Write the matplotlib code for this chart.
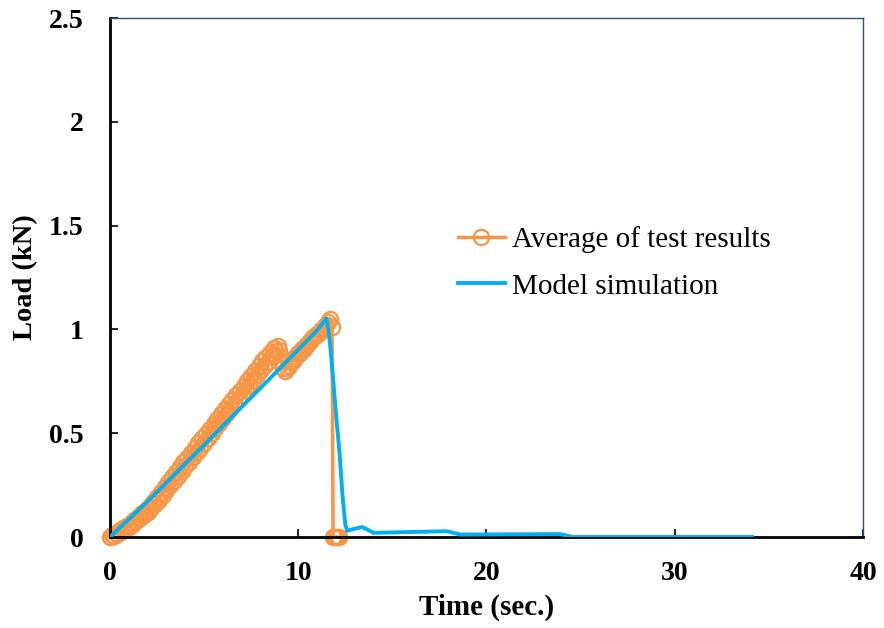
import matplotlib
matplotlib.use("Agg")
import matplotlib.pyplot as plt

# ── Data ────────────────────────────────────────────────────────────────────
test_time = [
    0.0, 0.1, 0.2, 0.3, 0.4, 0.5, 0.6, 0.7, 0.8, 0.9,
    1.0, 1.1, 1.2, 1.3, 1.4, 1.5, 1.6, 1.7, 1.8, 1.9,
    2.0, 2.1, 2.2, 2.3, 2.4, 2.5, 2.6, 2.7, 2.8, 2.9,
    3.0, 3.1, 3.2, 3.3, 3.4, 3.5, 3.6, 3.7, 3.8, 3.9,
    4.0, 4.1, 4.2, 4.3, 4.4, 4.5, 4.6, 4.7, 4.8, 4.9,
    5.0, 5.1, 5.2, 5.3, 5.4, 5.5, 5.6, 5.7, 5.8, 5.9,
    6.0, 6.1, 6.2, 6.3, 6.4, 6.5, 6.6, 6.7, 6.8, 6.9,
    7.0, 7.1, 7.2, 7.3, 7.4, 7.5, 7.6, 7.7, 7.8, 7.9,
    8.0, 8.1, 8.2, 8.3, 8.4, 8.5, 8.6, 8.7, 8.8, 8.9,
    9.0, 9.1, 9.2, 9.3, 9.4, 9.5, 9.6, 9.7, 9.8, 9.9,
    10.0, 10.1, 10.2, 10.3, 10.4, 10.5, 10.6, 10.7, 10.8, 10.9,
    11.0, 11.1, 11.2, 11.3, 11.4, 11.5, 11.6, 11.7, 11.8,
    11.85, 11.95, 12.05, 12.15,
]
test_load = [
    0.000, 0.008, 0.006, 0.019, 0.016, 0.030, 0.026, 0.041, 0.037, 0.054,
    0.050, 0.068, 0.062, 0.082, 0.076, 0.098, 0.090, 0.114, 0.106, 0.131,
    0.120, 0.150, 0.139, 0.171, 0.158, 0.191, 0.180, 0.216, 0.203, 0.241,
    0.228, 0.264, 0.249, 0.288, 0.270, 0.312, 0.294, 0.336, 0.317, 0.359,
    0.340, 0.382, 0.362, 0.405, 0.386, 0.428, 0.408, 0.452, 0.431, 0.475,
    0.455, 0.498, 0.478, 0.522, 0.502, 0.546, 0.526, 0.570, 0.550, 0.594,
    0.575, 0.617, 0.596, 0.639, 0.618, 0.661, 0.640, 0.683, 0.662, 0.705,
    0.685, 0.728, 0.708, 0.752, 0.732, 0.776, 0.755, 0.800, 0.780, 0.824,
    0.805, 0.846, 0.824, 0.866, 0.845, 0.886, 0.870, 0.912, 0.898, 0.922,
    0.900, 0.850, 0.812, 0.802, 0.812, 0.822, 0.842, 0.848, 0.862, 0.868,
    0.884, 0.888, 0.904, 0.908, 0.924, 0.928, 0.944, 0.948, 0.964, 0.968,
    0.979, 0.983, 0.999, 1.002, 1.018, 1.022, 1.038, 1.050, 1.010,
    0.000, 0.000, 0.000, 0.000,
]

sim_time = [
    0.0, 1.0, 2.0, 3.0, 4.0, 5.0, 6.0, 7.0, 8.0, 9.0, 10.0, 11.0, 11.5,
    11.6, 11.7, 11.8, 12.0, 12.2, 12.35, 12.5, 12.6,
    13.0, 13.4, 13.7, 14.0, 17.9, 18.6, 23.9, 24.6, 34.1,
]
sim_load = [
    0.0, 0.085, 0.172, 0.262, 0.353, 0.443, 0.535, 0.627, 0.718, 0.810,
    0.902, 0.995, 1.053,
    1.000, 0.920, 0.820, 0.600, 0.400, 0.200, 0.060, 0.030,
    0.040, 0.048, 0.035, 0.020, 0.028, 0.012, 0.014, 0.000, 0.000,
]

x_ticks = [0, 10, 20, 30, 40]
y_ticks = [0, 0.5, 1, 1.5, 2, 2.5]
y_tick_labels = ["0", "0.5", "1", "1.5", "2", "2.5"]

ORANGE = "#F79646"
BLUE = "#00B0F0"

plt.rcParams["font.family"] = ["Liberation Serif", "DejaVu Serif"]

fig = plt.figure(figsize=(8.84, 6.28), dpi=100)
ax = fig.add_axes([0.1244, 0.1449, 0.8518, 0.8264])

ax.plot(test_time, test_load, color=ORANGE, lw=2.5, marker="o",
        markersize=11, markerfacecolor="none", markeredgecolor=ORANGE,
        markeredgewidth=1.6, label="Average of test results", zorder=2,
        clip_on=False)
ax.plot(sim_time, sim_load, color=BLUE, lw=2.8,
        label="Model simulation", zorder=3)

ax.set_xlim(0, 40)
ax.set_ylim(0, 2.5)
ax.set_xticks(x_ticks)
ax.set_xticklabels([str(v) for v in x_ticks])
ax.set_yticks(y_ticks)
ax.set_yticklabels(y_tick_labels)

ax.tick_params(direction="in", length=6, width=1.2, labelsize=20,
               top=False, right=False)
ax.tick_params(axis="y", pad=19)
ax.tick_params(axis="x", pad=17)
for lbl in ax.get_xticklabels() + ax.get_yticklabels():
    lbl.set_fontweight("bold")

for side in ("left", "bottom"):
    ax.spines[side].set_color("black")
    ax.spines[side].set_linewidth(2)
for side in ("top", "right"):
    ax.spines[side].set_color("#2F4F7F")
    ax.spines[side].set_linewidth(1)

ax.set_xlabel("Time (sec.)", fontsize=21, fontweight="bold", labelpad=6)
ax.set_ylabel("Load (kN)", fontsize=20.5, fontweight="bold", labelpad=8)

ax.legend(loc="upper left", bbox_to_anchor=(0.4622, 0.599), frameon=False,
          fontsize=21, handlelength=1.6, handletextpad=0.25,
          labelspacing=0.69, borderpad=0, borderaxespad=0)

fig.savefig("out.png", dpi=100)
